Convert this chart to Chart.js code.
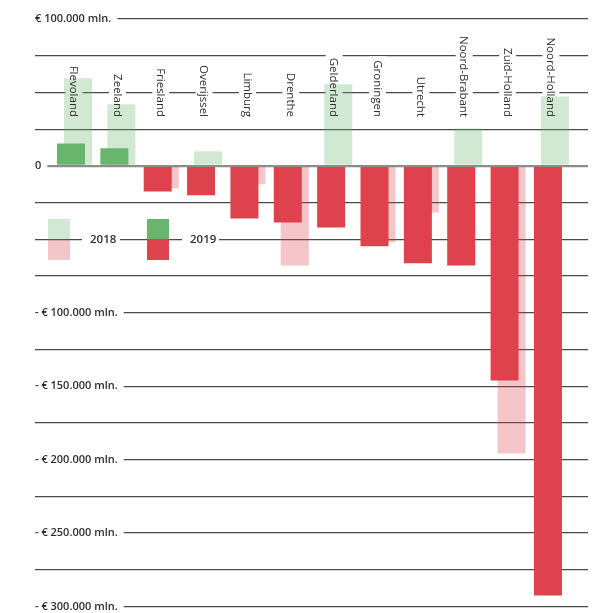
<!DOCTYPE html>
<html>
<head>
<meta charset="utf-8">
<script src="https://cdn.jsdelivr.net/npm/chart.js@4"></script>
<style>
  html, body { margin: 0; padding: 0; background: #fff; }
  #wrap { width: 595px; height: 613px; }
</style>
</head>
<body>
<div id="wrap"><canvas id="saldoChart"></canvas></div>
<script>
const provinces = ["Flevoland", "Zeeland", "Friesland", "Overijssel", "Limburg", "Drenthe",
    "Gelderland", "Groningen", "Utrecht", "Noord-Brabant", "Zuid-Holland", "Noord-Holland"];
// saldo in mln euro
const saldo2019 = [15300, 11900, -17400, -20100, -35800, -38500, -41900, -54800, -66400, -67800, -146100, -292600];
const saldo2018 = [59600, 41900, -15300, 9900, -12600, -67800, 55500, -52100, -31700, 25500, -195800, 47300];
const labeledTicks = [100000, 0, -100000, -150000, -200000, -250000, -300000];

const textColor = "#352c30";
const green = "#68b56e";
const red = "#de424c";
const lightGreen = "rgba(104, 181, 110, 0.3)";
const lightRed = "rgba(222, 66, 76, 0.3)";
const fontFamily = "'Open Sans', sans-serif";

function euroLabel(v) {
    if (v === 0) return "0";
    const num = String(Math.abs(v)).replace(/\B(?=(\d{3})+(?!\d))/g, ".");
    return (v < 0 ? "- " : "") + "€ " + num + " mln.";
}

const labelsAndLegend = {
    id: "labelsAndLegend",
    beforeDatasetsDraw(chart) {
        const ctx = chart.ctx;
        const x = chart.scales.x;
        const y = chart.scales.y;
        ctx.save();
        ctx.fillStyle = "#fff";
        ctx.font = "500 11.5px " + fontFamily;
        provinces.forEach((p, i) => {
            const w = ctx.measureText(p).width;
            const px = x.getPixelForValue(i);
            ctx.fillRect(px - 9, 117 - w - 4, 17, w + 8);
        });
        // gaps in the -50.000 line for the legend text
        const ly = y.getPixelForValue(-50000);
        ctx.fillRect(82, ly - 3, 38, 6);
        ctx.fillRect(182, ly - 3, 37, 6);
        ctx.restore();
    },
    afterDatasetsDraw(chart) {
        const ctx = chart.ctx;
        const x = chart.scales.x;
        const y = chart.scales.y;
        ctx.save();
        ctx.fillStyle = textColor;
        ctx.font = "500 11.5px " + fontFamily;
        ctx.textAlign = "right";
        ctx.textBaseline = "middle";
        provinces.forEach((p, i) => {
            ctx.save();
            ctx.translate(x.getPixelForValue(i) - 1, 117);
            ctx.rotate(Math.PI / 2);
            ctx.fillText(p, 0, 0);
            ctx.restore();
        });

        // legend
        const ly = Math.round(y.getPixelForValue(-50000));
        const ds = chart.data.datasets;
        ctx.fillStyle = lightGreen;
        ctx.fillRect(48, ly - 20, 22, 20);
        ctx.fillStyle = lightRed;
        ctx.fillRect(48, ly, 22, 21);
        ctx.fillStyle = green;
        ctx.fillRect(147, ly - 20, 22, 20);
        ctx.fillStyle = red;
        ctx.fillRect(147, ly, 22, 21);
        ctx.fillStyle = textColor;
        ctx.font = "600 11.5px " + fontFamily;
        ctx.textAlign = "left";
        ctx.fillText(ds[1].label, 90, ly + 1);
        ctx.fillText(ds[0].label, 190, ly + 1);
        ctx.restore();
    }
};

const ctx = document.getElementById("saldoChart").getContext("2d");
const saldoChart = new Chart(ctx, {
    type: "bar",
    data: {
        datasets: [{
            label: "2019",
            data: saldo2019.map((v, i) => ({x: i, y: v})),
            backgroundColor: c => c.raw && c.raw.y >= 0 ? green : red,
        }, {
            label: "2018",
            data: saldo2018.map((v, i) => ({x: i, y: v})),
            backgroundColor: c => c.raw && c.raw.y >= 0 ? lightGreen : lightRed,
        }]
    },
    options: {
        responsive: true,
        maintainAspectRatio: false,
        animation: false,
        categoryPercentage: 0.323,
        barPercentage: 4,
        layout: {padding: {left: 35, right: 7, top: 19, bottom: 6}},
        plugins: {
            legend: {display: false},
            tooltip: {enabled: false}
        },
        scales: {
            x: {
                type: "linear",
                min: -0.911,
                max: 11.843,
                offset: false,
                display: false,
                afterBuildTicks: s => { s.ticks = provinces.map((p, i) => ({value: i})); }
            },
            y: {
                min: -300000,
                max: 100000,
                border: {display: false},
                grid: {
                    drawTicks: false,
                    color: c => c.tick.value === 0 ? "#8c8c8c" : "#4a4a4a",
                    lineWidth: c => c.tick.value === 0 ? 2.2 : 1.2
                },
                ticks: {
                    stepSize: 25000,
                    autoSkip: false,
                    mirror: true,
                    padding: 0,
                    color: textColor,
                    font: {family: fontFamily, size: 11, weight: "600"},
                    callback: v => labeledTicks.includes(v) ? euroLabel(v) : "",
                    showLabelBackdrop: true,
                    backdropColor: c => c.tick && labeledTicks.includes(c.tick.value) ? "#fff" : "rgba(0,0,0,0)",
                    backdropPadding: {left: 1, right: 6, top: 2, bottom: 2}
                }
            }
        }
    },
    plugins: [labelsAndLegend]
});
</script>
</body>
</html>
